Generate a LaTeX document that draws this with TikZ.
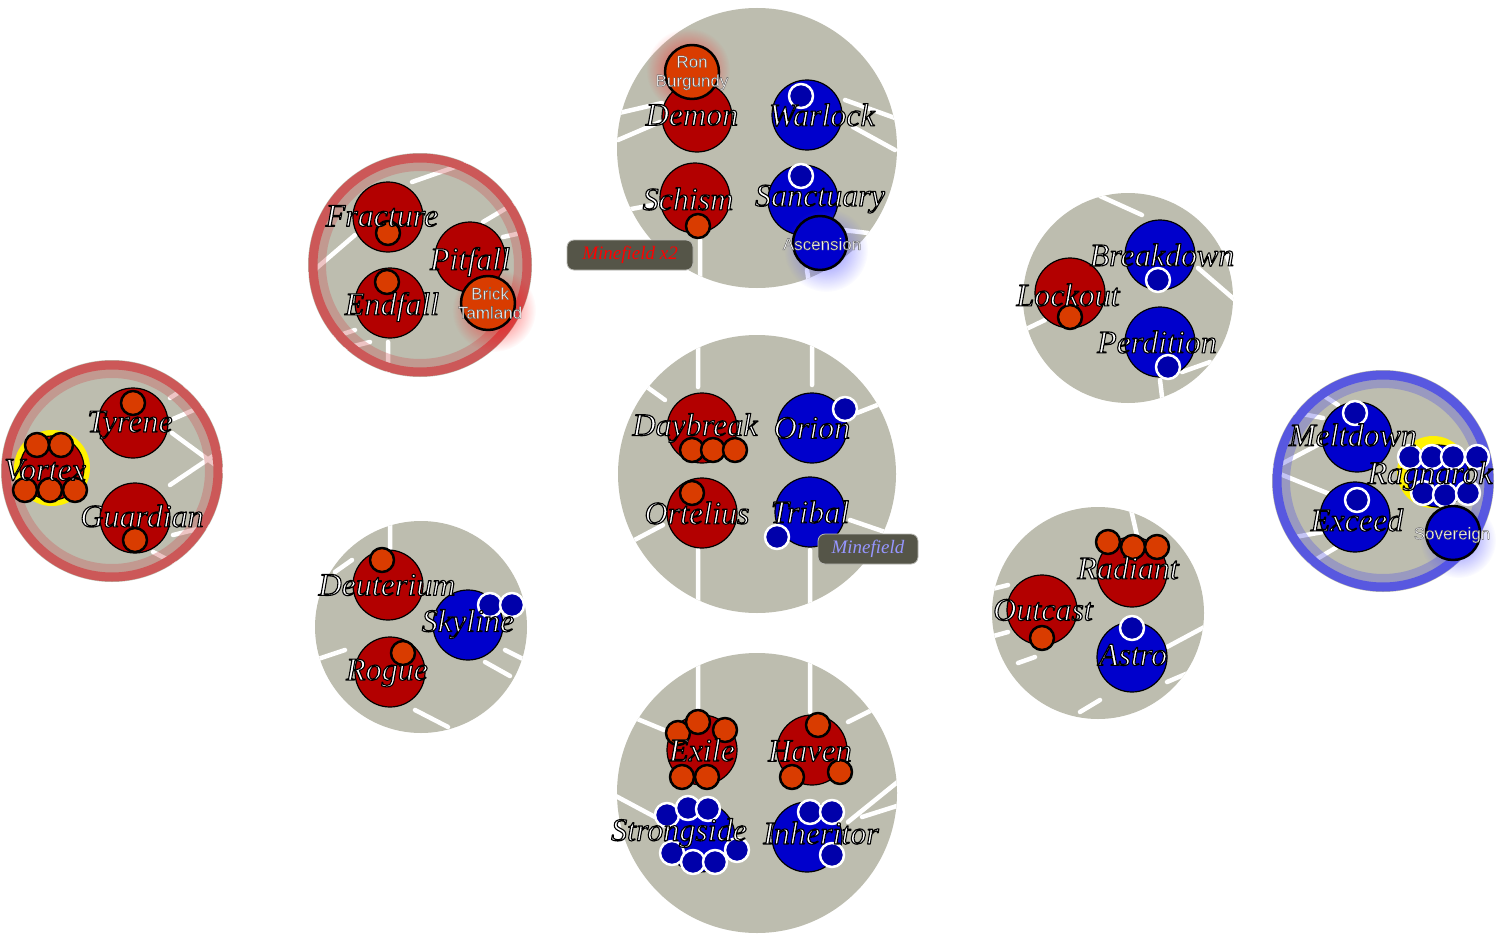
\documentclass[tikz,border=0pt]{standalone}
\usepackage{fontspec}
\setmainfont{Liberation Serif}
\newfontfamily\smallsans{Liberation Sans}
\usetikzlibrary{fadings}
\tikzfading[name=glowfade,inner color=transparent!0,outer color=transparent!100]

\definecolor{sysgray}{RGB}{189,189,175}
\definecolor{planetred}{RGB}{179,0,0}
\definecolor{planetblue}{RGB}{0,0,204}
\definecolor{moonorange}{RGB}{217,60,0}
\definecolor{moonblue}{RGB}{0,0,170}
\definecolor{ringred}{RGB}{204,88,88}
\definecolor{ringblue}{RGB}{88,88,224}
\definecolor{tagbg}{RGB}{85,85,72}
\definecolor{tagblue}{RGB}{150,150,255}

\tikzset{
  redp/.style={circle,draw=black,line width=1.2pt,fill=planetred,minimum size=70pt,inner sep=0pt},
  bluep/.style={redp,fill=planetblue},
  smallp/.style={circle,draw=black,line width=2.5pt,fill=moonorange,minimum size=54pt,inner sep=0pt},
  omoon/.style={fill=moonorange,draw=black,line width=2.5pt},
  bmoon/.style={fill=moonblue,draw=white,line width=2.5pt},
  lane/.style={white,line width=4.5pt},
  glowred/.style={fill=red,path fading=glowfade,opacity=.7},
  glowblue/.style={fill=blue!70!white,path fading=glowfade,opacity=.7},
  lbl/.style={font=\fontsize{32}{34}\selectfont\itshape,text=white,inner sep=0pt},
  sublbl/.style={font=\smallsans\fontsize{17}{19}\selectfont,text=white!95!black,align=center,inner sep=0pt},
  tagbox/.style={rounded corners=7pt,fill=tagbg,draw=white!60!tagbg,line width=.8pt,inner sep=0pt,
    minimum height=30pt,font=\fontsize{19}{20}\selectfont\itshape}
}
% outlined names: fill and stroke text render mode
\newcommand\pname[1]{\special{pdf:literal direct 2 Tr 1.1 w 0 0 0 RG}#1\special{pdf:literal direct 0 Tr}}
\newcommand\sname[1]{\special{pdf:literal direct 2 Tr 0.3 w 0.3 0.3 0.3 RG}#1\special{pdf:literal direct 0 Tr}}

\begin{document}
\begin{tikzpicture}[x=1pt,y=1pt,yscale=-1,line cap=round,line join=round]
\fill[white] (0,0) rectangle (1497,942);
\useasboundingbox (0,0) rectangle (1497,942);

% top system
\fill[sysgray] (757,148) circle (140);
\begin{scope}
\clip (757,148) circle (140);
\draw[lane] (619,113) -- (662,103) (618,140) -- (660,122) (626,210) -- (663,203)
  (845,100) -- (895,118) (853,127) -- (895,150) (700,240) -- (700,290)
  (843,230) -- (868,233) (807,270) -- (810,290);
\end{scope}
\fill[glowred] (688,70) circle (42);
\node[redp] (demon) at (697,117) {};
\node[smallp] (ron) at (692,72) {};
\node[bluep] (warlock) at (807,115) {};
\draw[bmoon] (801,96) circle (12);
\node[redp] (schism) at (695,198) {};
\draw[omoon] (698,226) circle (12);
\node[bluep] (sanctuary) at (803,200) {};
\draw[bmoon] (801,176) circle (12);
\fill[glowblue] (826,250) circle (42);
\node[smallp,fill=planetblue] (ascension) at (820,243) {};
\node[sublbl] (ronl) at (692,73) {\sname{Ron}\\\sname{Burgundy}};
\node[sublbl] (ascensionl) at (822,244) {\sname{Ascension}};
\node[lbl] (demonl) at (692,115) {\pname{Demon}};
\node[lbl] (warlockl) at (822,115) {\pname{Warlock}};
\node[lbl] (schisml) at (688,199) {\pname{Schism}};
\node[lbl] (sanctuaryl) at (820,199) {\pname{Sanctuary}};
\node[tagbox,minimum width=126pt,text=red] (mines2) at (630,255) {Minefield x2};

% fracture system
\fill[sysgray] (420,265) circle (112);
\begin{scope}
\clip (420,265) circle (112);
\draw[lane] (412,182) -- (475,160) (305,278) -- (355,235) (483,222) -- (520,200)
  (503,237) -- (530,231) (334,337) -- (355,330) (346,348) -- (370,342) (388,342) -- (388,380);
\end{scope}
\draw[ringred,opacity=.35,line width=10pt] (420,265) circle (99);
\draw[ringred,line width=9pt] (420,265) circle (107);
\node[redp] (fracture) at (388,217) {};
\draw[omoon] (388,233) circle (12);
\node[redp] (pitfall) at (470,257) {};
\node[redp] (endfall) at (390,303) {};
\draw[omoon] (387,282) circle (12);
\fill[glowred] (494,310) circle (42);
\node[smallp] (brick) at (488,303) {};
\node[sublbl] (brickl) at (490,303) {\sname{Brick}\\\sname{Tamland}};
\node[lbl] (fracturel) at (382,216) {\pname{Fracture}};
\node[lbl] (pitfalll) at (470,262) {\pname{Pitfall}};
\node[lbl] (endfalll) at (392,307) {\pname{Endfall}};

% vortex system
\fill[sysgray] (112,471) circle (111);
\begin{scope}
\clip (112,471) circle (111);
\draw[lane] (170,398) -- (190,385) (173,419) -- (210,403) (172,433) -- (225,472)
  (170,485) -- (225,448) (173,535) -- (210,526) (153,552) -- (178,565);
\end{scope}
\draw[ringred,opacity=.35,line width=10pt] (112,471) circle (98);
\draw[ringred,line width=9pt] (112,471) circle (106);
\node[redp] (tyrene) at (133,423) {};
\draw[omoon] (133,403) circle (12);
\fill[yellow] (52,468) circle (38);
\node[redp,minimum size=64pt] (vortex) at (52,468) {};
\foreach \mx/\my in {37/445,61/445,25/490,50/490,75/490}
  \draw[omoon] (\mx,\my) circle (12);
\node[redp] (guardian) at (135,518) {};
\draw[omoon] (135,540) circle (12);
\node[lbl] (tyrenel) at (130,425) {\pname{Tyrene}};
\node[lbl] (vortexl) at (45,470) {\pname{Vortex}};
\node[lbl] (guardianl) at (142,516) {\pname{Guardian}};

% deuterium system
\fill[sysgray] (421,627) circle (106);
\begin{scope}
\clip (421,627) circle (106);
\draw[lane] (390,525) -- (390,550) (335,572) -- (352,560) (315,660) -- (345,650)
  (415,710) -- (448,727) (485,662) -- (510,676) (505,650) -- (525,660);
\end{scope}
\node[redp] (deuterium) at (388,585) {};
\draw[omoon] (382,560) circle (12);
\node[bluep] (skyline) at (468,625) {};
\draw[bmoon] (490,605) circle (12);
\draw[bmoon] (512,605) circle (12);
\node[redp] (rogue) at (390,672) {};
\draw[omoon] (403,653) circle (12);
\node[lbl] (deuteriuml) at (387,585) {\pname{Deuterium}};
\node[lbl] (skylinel) at (468,624) {\pname{Skyline}};
\node[lbl] (roguel) at (387,673) {\pname{Rogue}};

% center system
\fill[sysgray] (757,474) circle (139);
\begin{scope}
\clip (757,474) circle (139);
\draw[lane] (698,330) -- (698,387) (812,330) -- (812,385) (698,550) -- (698,620)
  (810,550) -- (810,620) (640,382) -- (665,400) (857,413) -- (885,402)
  (625,545) -- (663,525) (850,520) -- (885,532);
\end{scope}
\node[redp] (daybreak) at (702,428) {};
\foreach \mx in {692,713,735}
  \draw[omoon] (\mx,450) circle (12);
\node[bluep] (orion) at (812,428) {};
\draw[bmoon] (845,409) circle (12);
\node[redp] (ortelius) at (702,513) {};
\draw[omoon] (692,493) circle (12);
\node[bluep] (tribal) at (810,512) {};
\draw[bmoon] (777,537) circle (12);
\node[lbl] (daybreakl) at (695,428) {\pname{Daybreak}};
\node[lbl] (orionl) at (812,428) {\pname{Orion}};
\node[lbl] (orteliusl) at (697,513) {\pname{Ortelius}};
\node[lbl] (triball) at (810,512) {\pname{Tribal}};
\node[tagbox,minimum width=100pt,text=tagblue] (mines1) at (868,549) {Minefield};

% bottom system
\fill[sysgray] (757,793) circle (140);
\begin{scope}
\clip (757,793) circle (140);
\draw[lane] (698,650) -- (698,708) (810,650) -- (810,712) (635,718) -- (664,730)
  (848,722) -- (872,710) (612,794) -- (655,817) (848,822) -- (900,780) (862,817) -- (900,805);
\end{scope}
\node[redp] (exile) at (702,750) {};
\foreach \mx/\my in {678/733,698/722,725/730,682/777,707/777}
  \draw[omoon] (\mx,\my) circle (12);
\node[redp] (haven) at (812,750) {};
\foreach \mx/\my in {818/725,792/777,840/772}
  \draw[omoon] (\mx,\my) circle (12);
\node[bluep] (strongside) at (700,837) {};
\foreach \mx/\my in {667/815,688/808,708/809,672/853,693/862,715/862,737/850}
  \draw[bmoon] (\mx,\my) circle (12);
\node[bluep] (inheritor) at (807,837) {};
\foreach \mx/\my in {810/812,832/812,832/855}
  \draw[bmoon] (\mx,\my) circle (12);
\node[lbl] (exilel) at (702,750) {\pname{Exile}};
\node[lbl] (havenl) at (810,751) {\pname{Haven}};
\node[lbl] (strongsidel) at (679,833) {\pname{Strongside}};
\node[lbl] (inheritorl) at (821,833) {\pname{Inheritor}};

% lockout system
\fill[sysgray] (1128,298) circle (105);
\begin{scope}
\clip (1128,298) circle (105);
\draw[lane] (1100,196) -- (1142,215) (1198,268) -- (1235,300) (1020,332) -- (1045,320)
  (1160,380) -- (1163,405) (1182,372) -- (1210,362);
\end{scope}
\node[bluep] (breakdown) at (1160,255) {};
\draw[bmoon] (1158,280) circle (12);
\node[redp] (lockout) at (1070,293) {};
\draw[omoon] (1070,317) circle (12);
\node[bluep] (perdition) at (1160,342) {};
\draw[bmoon] (1168,367) circle (12);
\node[lbl] (breakdownl) at (1162,255) {\pname{Breakdown}};
\node[lbl] (lockoutl) at (1068,295) {\pname{Lockout}};
\node[lbl] (perditionl) at (1157,342) {\pname{Perdition}};

% meltdown system
\fill[sysgray] (1383,481) circle (111);
\begin{scope}
\clip (1383,481) circle (111);
\draw[lane] (1315,390) -- (1338,405) (1292,412) -- (1323,418) (1270,470) -- (1327,440)
  (1270,470) -- (1337,497) (1295,537) -- (1323,532) (1310,563) -- (1337,547);
\end{scope}
\draw[ringblue,opacity=.35,line width=10pt] (1383,481) circle (98);
\draw[ringblue,line width=9pt] (1383,481) circle (106);
\node[bluep] (meltdown) at (1357,437) {};
\draw[bmoon] (1355,413) circle (12);
\node[bluep] (exceed) at (1355,517) {};
\draw[bmoon] (1357,500) circle (12);
\fill[yellow] (1433,472) circle (36);
\node[bluep,minimum size=62pt] (ragnarok) at (1438,476) {};
\foreach \mx/\my in {1410/457,1432/457,1453/457,1477/457,1423/493,1445/495,1468/493}
  \draw[bmoon] (\mx,\my) circle (12);
\fill[glowblue] (1458,540) circle (38);
\node[smallp,fill=planetblue] (sovereign) at (1453,533) {};
\node[sublbl] (sovereignl) at (1452,535) {\sname{Sovereign}};
\node[lbl] (meltdownl) at (1353,435) {\pname{Meltdown}};
\node[lbl] (ragnarokl) at (1430,476) {\pname{Ragnarok}};
\node[lbl] (exceedl) at (1357,520) {\pname{Exceed}};

% outcast system
\fill[sysgray] (1098,613) circle (106);
\begin{scope}
\clip (1098,613) circle (106);
\draw[lane] (1130,505) -- (1138,540) (988,590) -- (1008,585) (990,637) -- (1008,632)
  (1018,663) -- (1035,657) (1167,647) -- (1210,624) (1080,712) -- (1100,700) (1167,682) -- (1200,668);
\end{scope}
\node[redp] (radiant) at (1132,572) {};
\foreach \mx/\my in {1108/542,1133/547,1157/547}
  \draw[omoon] (\mx,\my) circle (12);
\node[redp] (outcast) at (1042,610) {};
\draw[omoon] (1042,638) circle (12);
\node[bluep] (astro) at (1132,657) {};
\draw[bmoon] (1132,628) circle (12);
\node[lbl] (radiantl) at (1128,568) {\pname{Radiant}};
\node[lbl] (outcastl) at (1043,610) {\pname{Outcast}};
\node[lbl] (astrol) at (1133,655) {\pname{Astro}};
\end{tikzpicture}
\end{document}
